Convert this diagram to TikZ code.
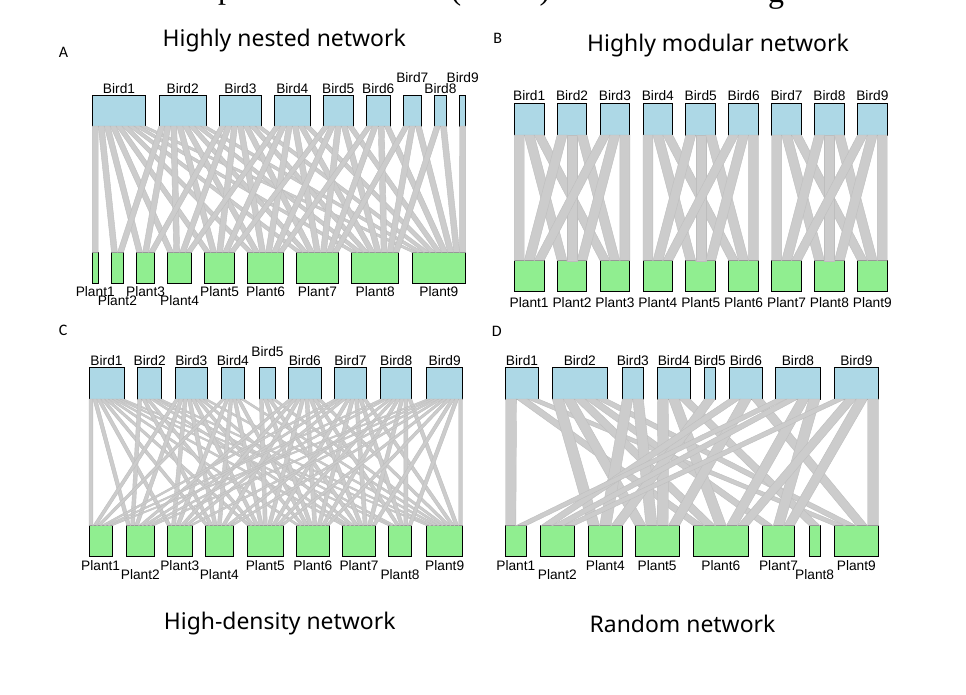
\documentclass[tikz,border=0pt]{standalone}
\usepackage{fontspec}
\setmainfont{Liberation Sans}
\newfontfamily\titlefont{Noto Sans}
\newfontfamily\letterfont{Carlito}
\newfontfamily\seriffont{Liberation Serif}
\usetikzlibrary{calc}
\definecolor{birdc}{HTML}{ADD8E6}
\definecolor{plantc}{HTML}{90EE90}
\definecolor{linkc}{HTML}{CCCCCC}
\definecolor{linkedge}{HTML}{BEBEBE}
\tikzset{
  birdbox/.style={draw=black, line width=0.75pt, fill=birdc, inner sep=0pt, outer sep=0pt, anchor=north west},
  plantbox/.style={draw=black, line width=0.75pt, fill=plantc, inner sep=0pt, outer sep=0pt, anchor=north west},
  lab/.style={font=\fontsize{10.3}{12}\selectfont, anchor=base, inner sep=0pt},
  ttl/.style={font=\titlefont\fontsize{17.2}{20}\selectfont, anchor=base, inner sep=0pt},
  letr/.style={font=\letterfont\fontsize{12}{14}\selectfont, anchor=base west, inner sep=0pt},
  frag/.style={font=\seriffont\fontsize{24}{28}\selectfont, anchor=base, inner sep=0pt},
  linkfill/.style={fill=linkc, draw=linkedge, line width=0.3pt},
}
% style, name, x1, x2, ytop, ybot, label baseline, text
\newcommand\bx[8]{%
  \node[#1, minimum width={(#4-#3)*0.75pt}, minimum height={(#6-#5)*0.75pt}] (#2) at (#3,#5) {};
  \node[lab] (#2-l) at ({(#3+#4)/2},#7) {#8};}
% panel, bird, plant, kb, db, kp, dp
\newcommand\plink[7]{%
  \path[linkfill] ($(#1-b#2.south west)!{#4/#5}!(#1-b#2.south east)$)
   -- ($(#1-b#2.south west)!{(#4+1)/#5}!(#1-b#2.south east)$)
   -- ($(#1-p#3.north west)!{(#6+1)/#7}!(#1-p#3.north east)$)
   -- ($(#1-p#3.north west)!{#6/#7}!(#1-p#3.north east)$) -- cycle;}
% panel, list of bird/{plants}
\newcommand\drawnet[2]{%
  \foreach \pp in {1,...,9}{\expandafter\xdef\csname dg\pp\endcsname{0}\expandafter\xdef\csname ct\pp\endcsname{0}}%
  \foreach \bb/\pl in {#2}{\foreach \pp in \pl {%
      \pgfmathtruncatemacro\tmpc{\csname dg\pp\endcsname+1}%
      \expandafter\xdef\csname dg\pp\endcsname{\tmpc}}}%
  \foreach \bb/\pl in {#2}{%
    \foreach \pp [count=\nn] in \pl {\xdef\dbb{\nn}}%
    \foreach \pp [count=\kk from 0] in \pl {%
      \edef\kpp{\csname ct\pp\endcsname}\edef\dpp{\csname dg\pp\endcsname}%
      \plink{#1}{\bb}{\pp}{\kk}{\dbb}{\kpp}{\dpp}%
      \pgfmathtruncatemacro\tmpc{\kpp+1}%
      \expandafter\xdef\csname ct\pp\endcsname{\tmpc}}}}
\begin{document}
\begin{tikzpicture}[x=0.75pt,y=-0.75pt]
\fill[white] (0,0) rectangle (966,694);
\useasboundingbox (0,0) rectangle (966,694);
% clipped fragments of a title above
\node[frag] (f1) at (226,-2) {p};
\node[frag] (f2) at (456,-1) {(};
\node[frag] (f3) at (545,-1) {)};
\node[frag] (f4) at (776,2) {g};
% titles and letters
\node[ttl] (tA) at (284.2,46.7) {Highly nested network};
\node[ttl] (tB) at (718,51.7) {Highly modular network};
\node[ttl] (tC) at (279.7,629.3) {High-density network};
\node[ttl] (tD) at (682.5,632) {Random network};
\node[letr] (lA) at (58.5,57.7) {A};
\node[letr] (lB) at (493,43.3) {B};
\node[letr] (lC) at (58.5,335) {C};
\node[letr] (lD) at (491.5,336.7) {D};
% ---------------- Panel A
\foreach \n/\xa/\xb/\ly in {1/92.3/145.7/93.3, 2/159.0/206.4/93.3, 3/219.7/261.2/93.3, 4/274.5/310.1/93.3, 5/323.4/353.1/93.3, 6/366.4/390.1/93.3, 7/403.4/421.2/82.7, 8/434.5/446.4/93.3, 9/459.7/465.6/82.7}
  {\bx{birdbox}{A-b\n}{\xa}{\xb}{95}{126}{\ly}{Bird\n}}
\foreach \n/\xa/\xb/\ly in {1/92.3/98.2/296.7, 2/111.5/123.4/305, 3/136.7/154.5/296.7, 4/167.8/191.5/305, 5/204.8/234.5/296.7, 6/247.8/283.4/296.7, 7/296.7/338.2/296.7, 8/351.5/398.9/296.7, 9/412.2/465.6/296.7}
  {\bx{plantbox}{A-p\n}{\xa}{\xb}{252.5}{283.5}{\ly}{Plant\n}}
\foreach \i in {1,...,9}{\foreach \j in {\i,...,9}{%
  \pgfmathtruncatemacro\kb{\j-\i}\pgfmathtruncatemacro\db{10-\i}\pgfmathtruncatemacro\kp{\i-1}%
  \plink{A}{\i}{\j}{\kb}{\db}{\kp}{\j}}}
% ---------------- Panel B
\foreach \n/\xa/\xb in {1/514.3/544.0, 2/557.2/586.9, 3/600.1/629.8, 4/643.0/672.7, 5/685.9/715.6, 6/728.8/758.5, 7/771.7/801.4, 8/814.6/844.3, 9/857.5/887.2}
  {\bx{birdbox}{B-b\n}{\xa}{\xb}{103.3}{135}{100}{Bird\n}
   \bx{plantbox}{B-p\n}{\xa}{\xb}{260.7}{291.7}{307.3}{Plant\n}}
\foreach \m in {0,1,2}{\foreach \a in {1,2,3}{\foreach \c in {1,2,3}{%
  \pgfmathtruncatemacro\bi{3*\m+\a}\pgfmathtruncatemacro\pj{3*\m+\c}%
  \pgfmathtruncatemacro\kb{\c-1}\pgfmathtruncatemacro\kp{\a-1}%
  \plink{B}{\bi}{\pj}{\kb}{3}{\kp}{3}}}}
% ---------------- Panel C
\foreach \n/\xa/\xb/\ly in {1/89/124/365, 2/137.7/161.7/365, 3/175.3/207.3/365, 4/221.7/244/365, 5/259.3/275.7/356, 6/288.7/321/365, 7/334.3/366.7/365, 8/380.7/411.7/365, 9/426.7/462.7/365}
  {\bx{birdbox}{C-b\n}{\xa}{\xb}{367.3}{399}{\ly}{Bird\n}}
\foreach \n/\xa/\xb/\ly in {1/89/112.3/570, 2/126.7/154/579.3, 3/167.3/192.3/570, 4/205.3/233.3/579.3, 5/247.3/283.3/570, 6/296.7/329/570, 7/342.3/375.7/570, 8/388.3/411.7/579.3, 9/426.7/462.7/570}
  {\bx{plantbox}{C-p\n}{\xa}{\xb}{525.7}{556}{\ly}{Plant\n}}
\drawnet{C}{1/{1,2,3,4,5,6,7,8,9}, 2/{2,4,5,7,8,9}, 3/{1,2,3,4,5,6,7,9}, 4/{1,3,4,5,6,9}, 5/{5,6,7,9}, 6/{2,3,4,5,6,7,8,9}, 7/{1,2,3,5,6,7,8,9}, 8/{1,2,4,5,6,7,8,9}, 9/{1,2,3,4,5,6,7,8,9}}
% ---------------- Panel D
\foreach \n/\xa/\xb in {1/505.7/538.3, 2/552.3/607.3, 3/622.3/643.3, 4/657.7/690, 5/704.3/715.3, 6/729/762.7, 8/775.7/820, 9/834/878.7}
  {\bx{birdbox}{D-b\n}{\xa}{\xb}{367.3}{399}{365}{Bird\n}}
\foreach \n/\xa/\xb/\ly in {1/505.7/526/570, 2/540.7/574/579.3, 4/588.3/622.3/570, 5/635/679.3/570, 6/693.3/748.3/570, 7/762.7/794.3/570, 8/809.3/820/579.3, 9/834/878.7/570}
  {\bx{plantbox}{D-p\n}{\xa}{\xb}{525.7}{556}{\ly}{Plant\n}}
\drawnet{D}{1/{1,6,9}, 2/{4,5,6,7,9}, 3/{4,5}, 4/{5,6,8}, 5/{4}, 6/{2,5,9}, 8/{1,2,6,7}, 9/{2,6,7,9}}
\end{tikzpicture}
\end{document}
